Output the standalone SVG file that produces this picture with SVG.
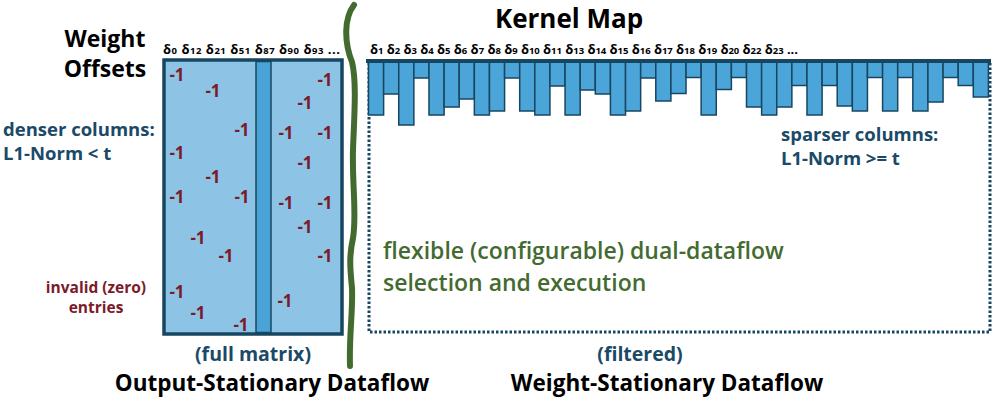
<svg xmlns="http://www.w3.org/2000/svg" width="996" height="398" viewBox="0 0 996 398">
<style>
text{font-family:"Open Sans","Noto Sans","DejaVu Sans",sans-serif;font-weight:700}
.t{fill:#000}
.nv{fill:#1a4a68}
.rd{fill:#7b1b2a}
.m{font-size:17px;fill:#7b1b2a;text-anchor:middle}
.d{font-size:13px;fill:#000}
.s{font-size:9.5px}
.bar{fill:#4ca5d9;stroke:#174660;stroke-width:1.5}
.gr{fill:#436b30;font-weight:600}
</style>
<rect width="996" height="398" fill="#fff"/>

<g id="title-kernel-map"><text class="t" x="569" y="28" font-size="26" text-anchor="middle">Kernel Map</text></g>
<g id="title-weight-offsets">
<text class="t" x="105" y="47" font-size="23" text-anchor="middle">Weight</text>
<text class="t" x="105" y="77" font-size="23" text-anchor="middle">Offsets</text>
</g>
<g id="label-denser">
<text class="nv" x="3" y="136" font-size="18.5">denser columns:</text>
<text class="nv" x="3" y="160" font-size="18.5">L1-Norm &lt; t</text>
</g>
<g id="label-invalid">
<text class="rd" x="96" y="293" font-size="15.5" text-anchor="middle" font-weight="600">invalid (zero)</text>
<text class="rd" x="96" y="313" font-size="15.5" text-anchor="middle" font-weight="600">entries</text>
</g>

<g id="left-matrix">
<text class="d" x="163" y="54" textLength="177" lengthAdjust="spacing">δ<tspan class="s">0</tspan> δ<tspan class="s">12</tspan> δ<tspan class="s">21</tspan> δ<tspan class="s">51</tspan> δ<tspan class="s">87</tspan> δ<tspan class="s">90</tspan> δ<tspan class="s">93</tspan> ...</text>
<rect x="164" y="60" width="178" height="274" fill="#8dc4e6" stroke="#174660" stroke-width="3.5"/>
<rect x="256" y="61.5" width="15" height="271" fill="#4aa3d6" stroke="#174660" stroke-width="1.5"/>
<text class="m" x="177" y="81">-1</text>
<text class="m" x="213" y="97">-1</text>
<text class="m" x="325" y="86">-1</text>
<text class="m" x="305" y="109">-1</text>
<text class="m" x="242" y="136">-1</text>
<text class="m" x="286" y="139">-1</text>
<text class="m" x="325" y="139">-1</text>
<text class="m" x="177" y="159">-1</text>
<text class="m" x="213" y="183">-1</text>
<text class="m" x="305" y="169">-1</text>
<text class="m" x="177" y="203">-1</text>
<text class="m" x="242" y="203">-1</text>
<text class="m" x="286" y="209">-1</text>
<text class="m" x="325" y="209">-1</text>
<text class="m" x="305" y="233">-1</text>
<text class="m" x="198" y="244">-1</text>
<text class="m" x="226" y="262">-1</text>
<text class="m" x="325" y="262">-1</text>
<text class="m" x="177" y="298">-1</text>
<text class="m" x="285" y="307">-1</text>
<text class="m" x="198" y="319">-1</text>
<text class="m" x="241" y="331">-1</text>
<text class="nv" x="253" y="361" font-size="19.5" text-anchor="middle">(full matrix)</text>
</g>

<g id="kernel-map">
<text class="d" x="370" y="54" textLength="428" lengthAdjust="spacing">δ<tspan class="s">1</tspan> δ<tspan class="s">2</tspan> δ<tspan class="s">3</tspan> δ<tspan class="s">4</tspan> δ<tspan class="s">5</tspan> δ<tspan class="s">6</tspan> δ<tspan class="s">7</tspan> δ<tspan class="s">8</tspan> δ<tspan class="s">9</tspan> δ<tspan class="s">10</tspan> δ<tspan class="s">11</tspan> δ<tspan class="s">13</tspan> δ<tspan class="s">14</tspan> δ<tspan class="s">15</tspan> δ<tspan class="s">16</tspan> δ<tspan class="s">17</tspan> δ<tspan class="s">18</tspan> δ<tspan class="s">19</tspan> δ<tspan class="s">20</tspan> δ<tspan class="s">22</tspan> δ<tspan class="s">23</tspan> ...</text>
<path d="M369,63 V332 H990 V63" fill="none" stroke="#174660" stroke-width="3" stroke-dasharray="2.5 2"/>
<g id="bars">
<rect class="bar" x="368.5" y="61" width="15.12" height="54"/>
<rect class="bar" x="383.62" y="61" width="15.12" height="33"/>
<rect class="bar" x="398.74" y="61" width="15.12" height="64"/>
<rect class="bar" x="413.86" y="61" width="15.12" height="17"/>
<rect class="bar" x="428.98" y="61" width="15.12" height="54"/>
<rect class="bar" x="444.1" y="61" width="15.12" height="46"/>
<rect class="bar" x="459.22" y="61" width="15.12" height="38"/>
<rect class="bar" x="474.34" y="61" width="15.12" height="54"/>
<rect class="bar" x="489.46" y="61" width="15.12" height="50"/>
<rect class="bar" x="504.58" y="61" width="15.12" height="17"/>
<rect class="bar" x="519.7" y="61" width="15.12" height="50"/>
<rect class="bar" x="534.82" y="61" width="15.12" height="54"/>
<rect class="bar" x="549.94" y="61" width="15.12" height="25"/>
<rect class="bar" x="565.06" y="61" width="15.12" height="54"/>
<rect class="bar" x="580.18" y="61" width="15.12" height="29"/>
<rect class="bar" x="595.3" y="61" width="15.12" height="33"/>
<rect class="bar" x="610.42" y="61" width="15.12" height="54"/>
<rect class="bar" x="625.54" y="61" width="15.12" height="50"/>
<rect class="bar" x="640.66" y="61" width="15.12" height="17"/>
<rect class="bar" x="655.78" y="61" width="15.12" height="40"/>
<rect class="bar" x="670.9" y="61" width="15.12" height="32.5"/>
<rect class="bar" x="686.02" y="61" width="15.12" height="16.5"/>
<rect class="bar" x="701.14" y="61" width="15.12" height="54"/>
<rect class="bar" x="716.26" y="61" width="15.12" height="28.5"/>
<rect class="bar" x="731.38" y="61" width="15.12" height="16.5"/>
<rect class="bar" x="746.5" y="61" width="15.12" height="46"/>
<rect class="bar" x="761.62" y="61" width="15.12" height="54"/>
<rect class="bar" x="776.74" y="61" width="15.12" height="46"/>
<rect class="bar" x="791.86" y="61" width="15.12" height="24.5"/>
<rect class="bar" x="806.98" y="61" width="15.12" height="54"/>
<rect class="bar" x="822.1" y="61" width="15.12" height="24.5"/>
<rect class="bar" x="837.22" y="61" width="15.12" height="45"/>
<rect class="bar" x="852.34" y="61" width="15.12" height="50"/>
<rect class="bar" x="867.46" y="61" width="15.12" height="16.5"/>
<rect class="bar" x="882.58" y="61" width="15.12" height="50"/>
<rect class="bar" x="897.7" y="61" width="15.12" height="16.5"/>
<rect class="bar" x="912.82" y="61" width="15.12" height="50"/>
<rect class="bar" x="927.94" y="61" width="15.12" height="41"/>
<rect class="bar" x="943.06" y="61" width="15.12" height="16.5"/>
<rect class="bar" x="958.18" y="61" width="15.12" height="24.5"/>
<rect class="bar" x="973.3" y="61" width="15.12" height="36"/>
</g>
<line x1="366" y1="61" x2="991" y2="61" stroke="#174660" stroke-width="4"/>
<text class="nv" x="781" y="141" font-size="18.5">sparser columns:</text>
<text class="nv" x="781" y="165" font-size="18.5">L1-Norm &gt;= t</text>
<text class="nv" x="640" y="361" font-size="19.5" text-anchor="middle">(filtered)</text>
</g>

<g id="connectors">
<path d="M354,5 C344,18 344,42 352,62 C357,82 354,120 353,150 C352,185 357,215 353,238 C349,256 350,268 352,288 C353,312 349,335 350,366" fill="none" stroke="#436b30" stroke-width="6" stroke-linecap="round"/>
</g>

<g id="label-dual-dataflow">
<text class="gr" x="383" y="259" font-size="23">flexible (configurable) dual-dataflow</text>
<text class="gr" x="383" y="291" font-size="23">selection and execution</text>
</g>
<g id="label-os"><text class="t" x="272" y="391" font-size="22.5" text-anchor="middle">Output-Stationary Dataflow</text></g>
<g id="label-ws"><text class="t" x="667" y="391" font-size="22.5" text-anchor="middle">Weight-Stationary Dataflow</text></g>
</svg>
